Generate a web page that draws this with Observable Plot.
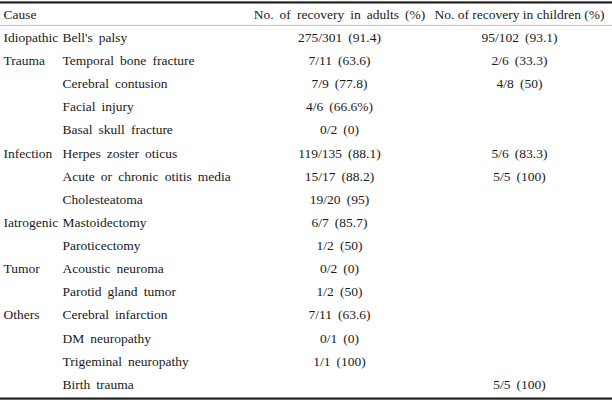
<!DOCTYPE html>
<html>
<head>
<meta charset="utf-8">
<script src="https://cdn.jsdelivr.net/npm/d3@7"></script>
<script src="https://cdn.jsdelivr.net/npm/@observablehq/plot@0.6"></script>
<style>
  html, body { margin: 0; padding: 0; background: #fff; }
  svg { display: block; }
</style>
</head>
<body>
<div id="chart"></div>
<script>
// ---- data ----
const headers = ["Cause", "", "No. of recovery in adults (%)", "No. of recovery in children (%)"];
const causes = ["Idiopathic", "Trauma", "", "", "", "Infection", "", "", "Iatrogenic", "", "Tumor", "", "Others", "", "", ""];
const conditions = ["Bell's palsy", "Temporal bone fracture", "Cerebral contusion", "Facial injury", "Basal skull fracture",
  "Herpes zoster oticus", "Acute or chronic otitis media", "Cholesteatoma", "Mastoidectomy", "Paroticectomy",
  "Acoustic neuroma", "Parotid gland tumor", "Cerebral infarction", "DM neuropathy", "Trigeminal neuropathy", "Birth trauma"];
const adults = ["275/301 (91.4)", "7/11 (63.6)", "7/9 (77.8)", "4/6 (66.6%)", "0/2 (0)", "119/135 (88.1)", "15/17 (88.2)",
  "19/20 (95)", "6/7 (85.7)", "1/2 (50)", "0/2 (0)", "1/2 (50)", "7/11 (63.6)", "0/1 (0)", "1/1 (100)", ""];
const children = ["95/102 (93.1)", "2/6 (33.3)", "4/8 (50)", "", "", "5/6 (83.3)", "5/5 (100)", "", "", "", "", "", "", "", "", "5/5 (100)"];

// ---- build cells ----
const cols = ["cause", "condition", "adults", "children"];
const wide = s => s.replace(/ /g, " \u2009"); // wider word gaps like the typeset table
const cells = [];
headers.forEach((h, c) => cells.push({row: -1, col: cols[c], text: c === 3 ? h : wide(h)}));
conditions.forEach((_, i) => {
  cells.push({row: i, col: "cause", text: wide(causes[i])});
  cells.push({row: i, col: "condition", text: wide(conditions[i])});
  cells.push({row: i, col: "adults", text: wide(adults[i])});
  cells.push({row: i, col: "children", text: wide(children[i])});
});
const n = conditions.length;

// layout (column anchor positions in px)
const colX = {cause: 3, condition: 62, adults: 339, children: 519};
const colAnchor = {cause: "start", condition: "start", adults: "middle", children: "middle"};
const rowStep = 23.125;
const yMin = -1.6, yMax = n - 1 + 0.7;
const yTop = -1.5, yHead = -0.53, yBottom = n - 1 + 0.63;
const half = 0.048; // half thickness of the heavy rules, in row units

const W = 612, H = 402;
const plot = Plot.plot({
  width: W, height: H,
  margin: 0,
  style: {fontFamily: "'Liberation Serif', serif", fontSize: "13.5px", background: "#fff", color: "#222"},
  x: {type: "linear", domain: [0, W], range: [0, W], axis: null},
  y: {type: "linear", domain: [yMin, yMax], range: [14 + (yMin + 1) * rowStep, 14 + (yMax + 1) * rowStep], axis: null},
  marks: [
    Plot.rect([yTop, yBottom], {x1: () => 0, x2: () => W, y1: d => d - half, y2: d => d + half, fill: "#222"}),
    Plot.ruleY([yHead], {stroke: "#c0c0c0", strokeWidth: 1}),
    ...cols.map(c => Plot.text(cells.filter(d => d.col === c && d.text), {
      x: () => colX[c], y: "row", text: "text",
      textAnchor: colAnchor[c], fill: "#1a1a1a",
      lineAnchor: "middle"
    }))
  ]
});
document.getElementById("chart").appendChild(plot);
</script>
</body>
</html>
